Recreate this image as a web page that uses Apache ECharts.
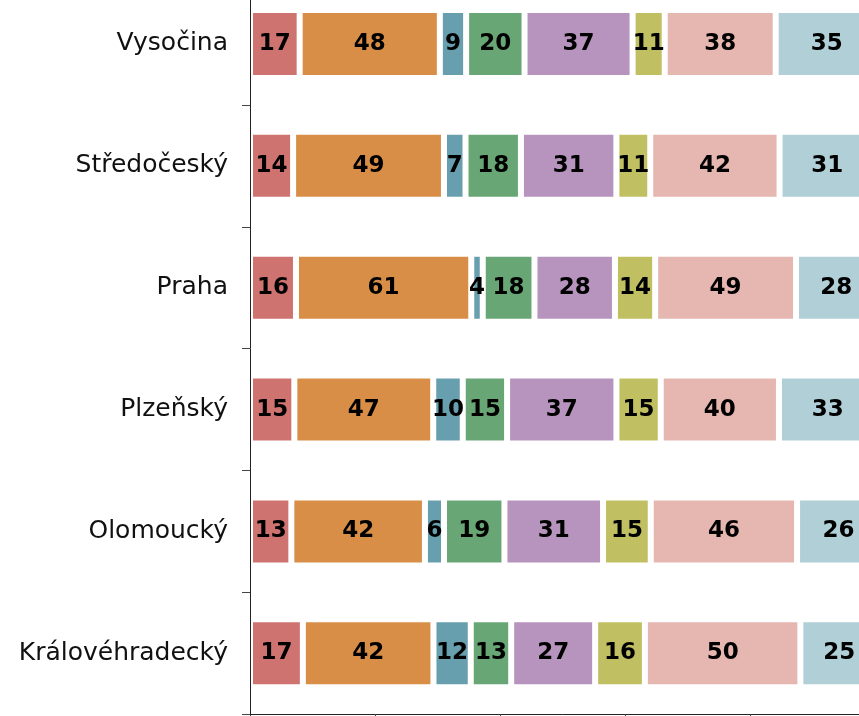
<!DOCTYPE html>
<html>
<head>
<meta charset="utf-8">
<script src="https://cdn.jsdelivr.net/npm/echarts@6/dist/echarts.min.js"></script>
<style>
  html, body { margin: 0; padding: 0; background: #fff; overflow: hidden; width: 859px; height: 716px; }
  /* the original chart is cut at the top and on the right, so the canvas is larger than the window */
  #chart { position: absolute; left: 0; top: -17px; width: 1500px; height: 733px; }
</style>
</head>
<body>
<div id="chart"></div>
<script>
// regions, top to bottom
var regions = ['Vysočina', 'Středočeský', 'Praha', 'Plzeňský', 'Olomoucký', 'Královéhradecký'];

// visible segments (values as printed on the bars)
var s1 = [17, 14, 16, 15, 13, 17];
var s2 = [48, 49, 61, 47, 42, 42];
var s3 = [9, 7, 4, 10, 6, 12];
var s4 = [20, 18, 18, 15, 19, 13];
var s5 = [37, 31, 28, 37, 31, 27];
var s6 = [11, 11, 14, 15, 15, 16];
var s7 = [38, 42, 49, 40, 46, 50];
var s8 = [35, 31, 28, 33, 26, 25];

// estimated row totals (bars are shares of the whole row, the rest is cut off on the right)
var rowTotals = [428, 406, 435, 423, 393, 402];

var colors = ['#CE7370', '#D98E48', '#689FAE', '#68A775', '#B794BD', '#C0C062', '#E6B6B0', '#B0CFD6'];

var myChart = echarts.init(document.getElementById('chart'));

var allSeries = [s1, s2, s3, s4, s5, s6, s7, s8];
var series = allSeries.map(function(vals, i){
    return {
        type: 'bar',
        stack: 'total',
        barWidth: 68,
        data: vals.map(function(v, j){
            return { value: v / rowTotals[j] * 100, raw: v };
        }),
        itemStyle: {
            color: colors[i],
            borderColor: '#ffffff',
            borderWidth: 3
        },
        label: {
            show: true,
            position: 'inside',
            color: '#000',
            fontFamily: 'DejaVu Sans',
            fontWeight: 'bold',
            fontSize: 23,
            formatter: function(p){ return p.data.raw; }
        }
    };
});

var option = {
    animation: false,
    backgroundColor: '#fff',
    grid: {
        left: 250,
        right: 0,
        top: 0,
        bottom: 1.7
    },
    xAxis: {
        type: 'value',
        min: 0,
        max: 100,
        interval: 10,
        axisLine: { show: true, lineStyle: { color: '#222', width: 1 } },
        axisTick: { show: true, length: 6, lineStyle: { color: '#444' } },
        axisLabel: { show: false },
        splitLine: { show: false }
    },
    yAxis: {
        type: 'category',
        inverse: true,
        z: 5,
        data: regions,
        axisLine: { show: true, lineStyle: { color: '#222', width: 1 } },
        axisTick: { show: true, length: 8, lineStyle: { color: '#444' } },
        axisLabel: {
            margin: 22,
            color: '#111',
            fontFamily: 'DejaVu Sans',
            fontSize: 25
        }
    },
    series: series
};
myChart.setOption(option);
</script>
</body>
</html>
